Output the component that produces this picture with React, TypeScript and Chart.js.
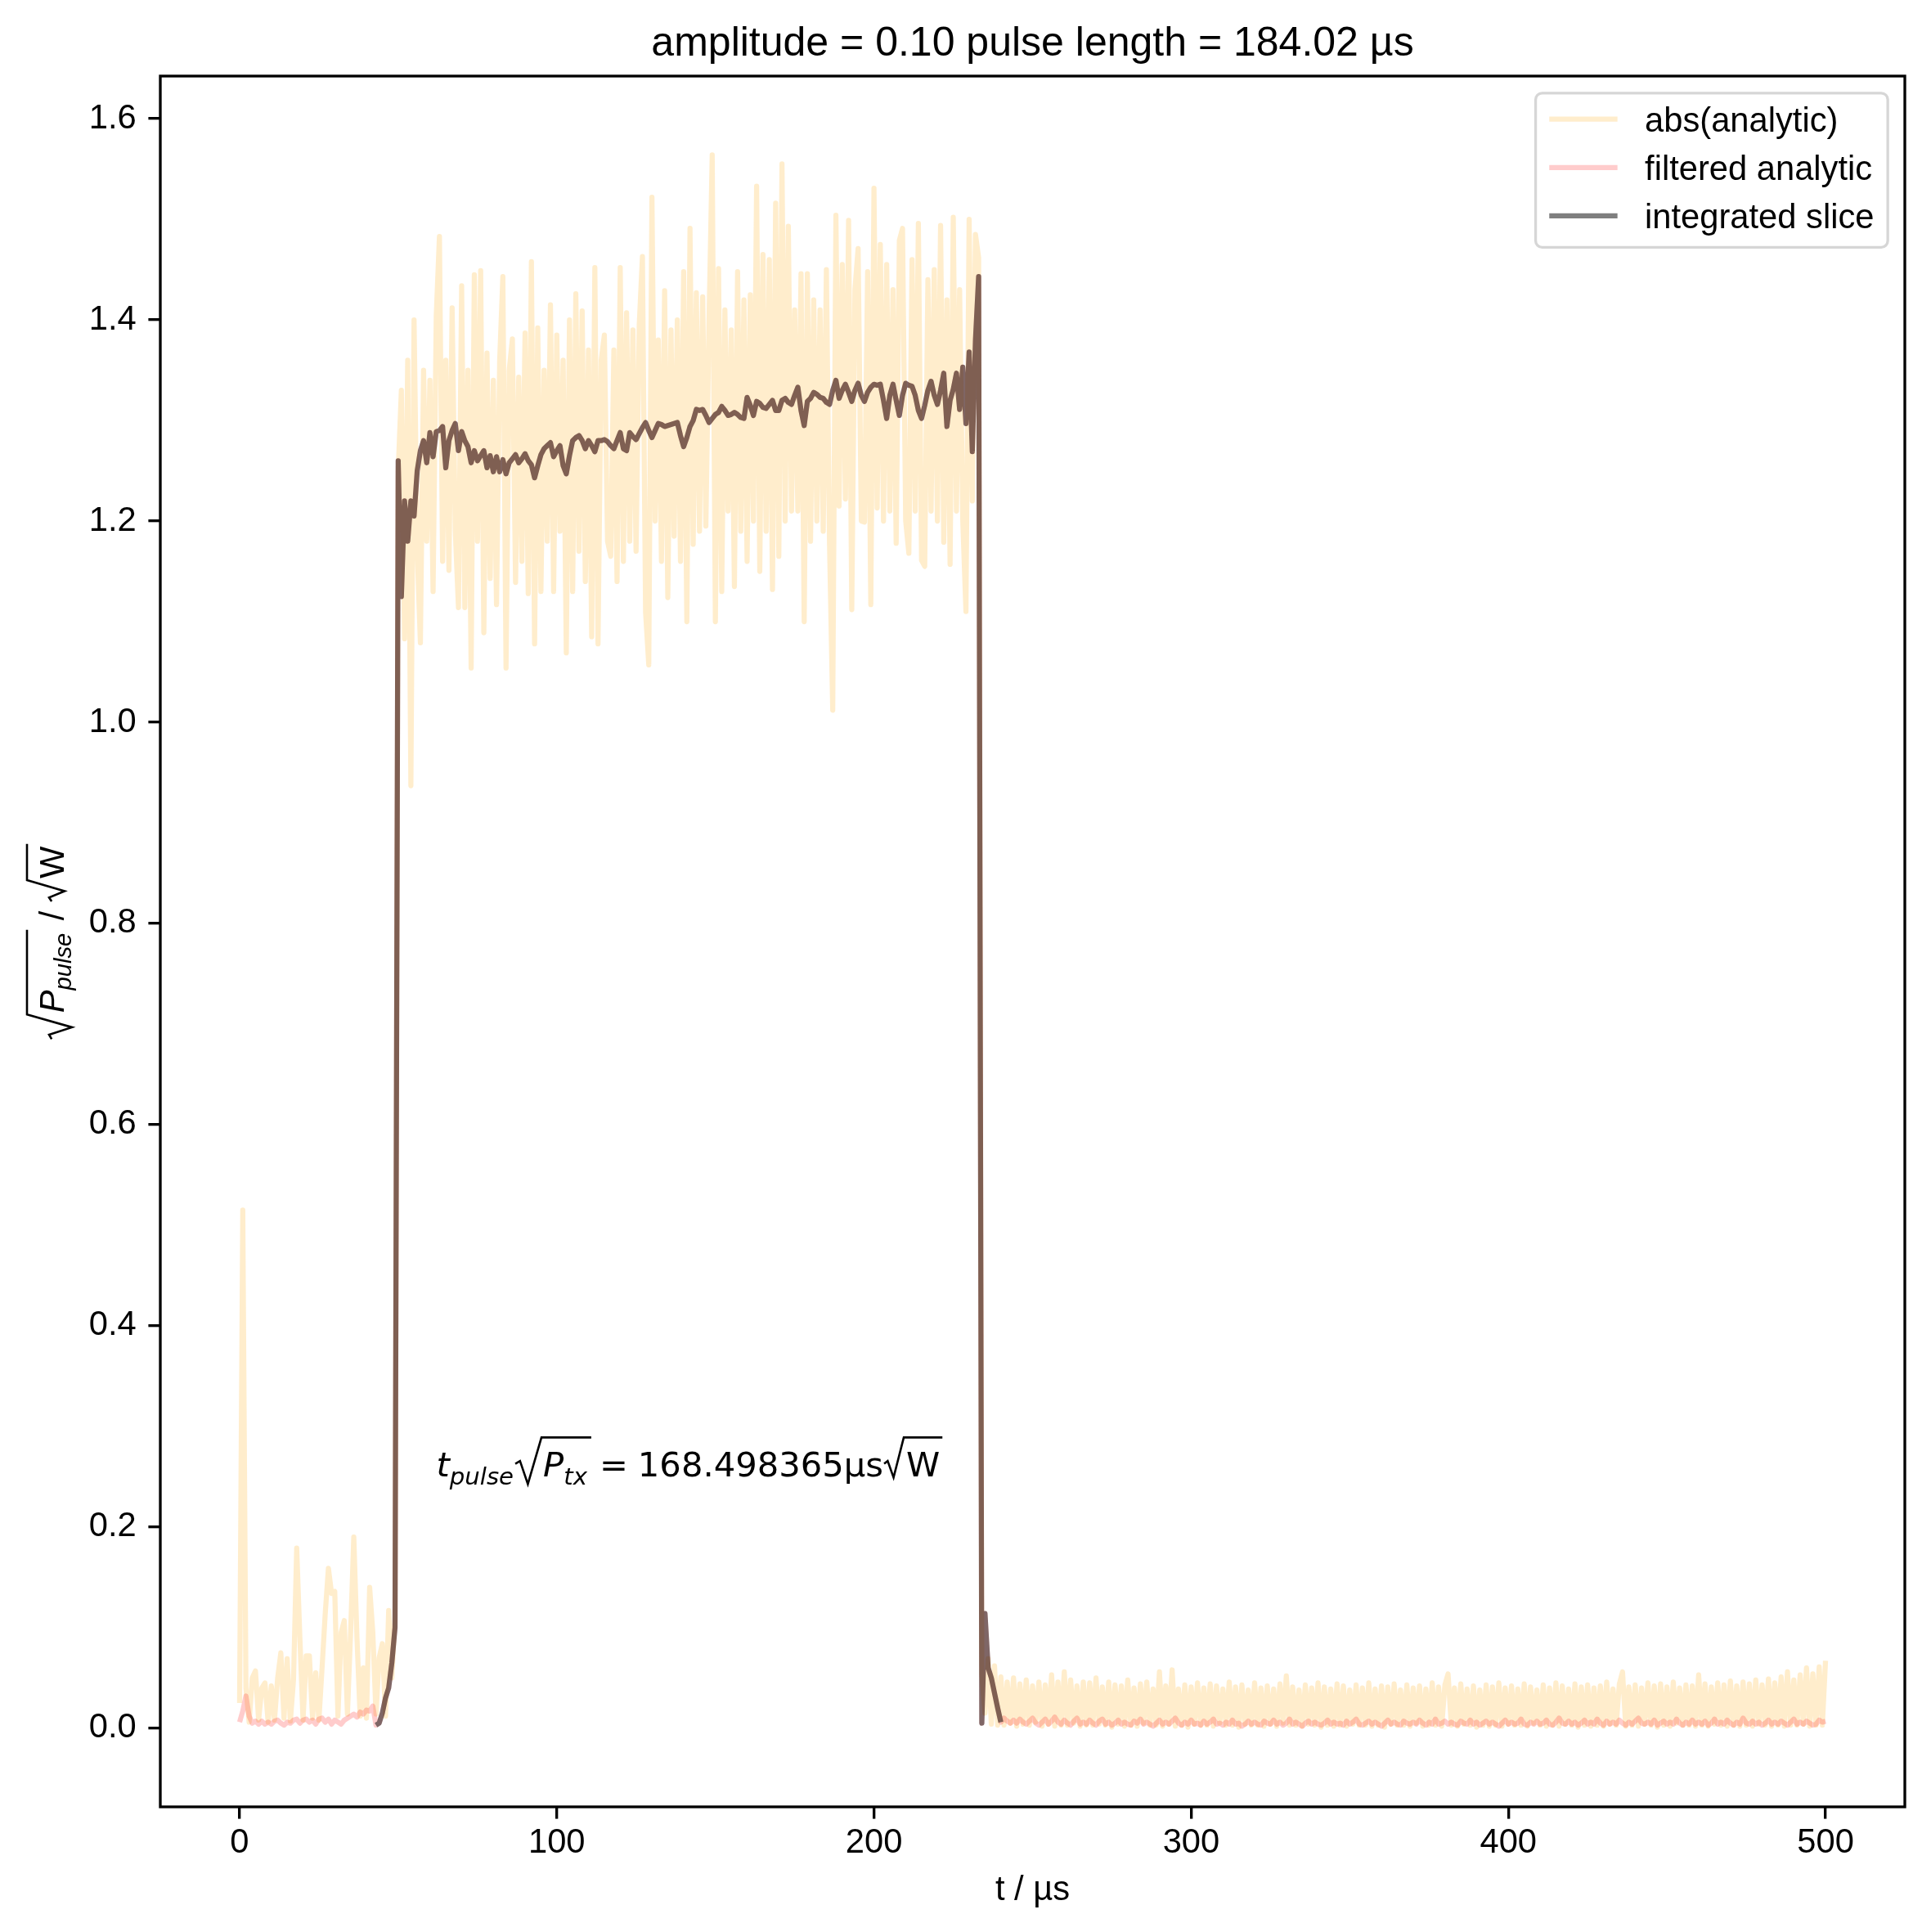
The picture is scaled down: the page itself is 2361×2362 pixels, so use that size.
import React, { useEffect, useRef } from "react";
import { Chart, registerables } from "chart.js";

Chart.register(...registerables);

// ---------------- text ----------------
const TITLE = "amplitude = 0.10 pulse length = 184.02 µs";
const X_LABEL = "t / µs";
const LEGEND_LABELS = ["abs(analytic)", "filtered analytic", "integrated slice"];
const ANNOT_X = 62;
const ANNOT_Y = 0.25;
const ANNOT_VALUE = "168.498365";

// ---------------- axes ----------------
const X_TICKS = [0, 100, 200, 300, 400, 500];
const Y_TICKS = [0, 0.2, 0.4, 0.6, 0.8, 1.0, 1.2, 1.4, 1.6];
const X_MIN = -25;
const X_MAX = 525;
const Y_MIN = -0.0782;
const Y_MAX = 1.6424;

// ---------------- data (sampling step 1 µs) ----------------
const SAMPLE_US = 1;

// abs(analytic), t = 0 .. 500 µs
const ABS_ANALYTIC = [
  0.025, 0.515, 0.040, 0.006, 0.050, 0.057, 0.008, 0.040, 0.045, 0.006,
  0.042, 0.008, 0.050, 0.075, 0.010, 0.069, 0.007, 0.048, 0.179, 0.090,
  0.008, 0.072, 0.072, 0.010, 0.055, 0.008, 0.060, 0.114, 0.159, 0.134,
  0.136, 0.012, 0.095, 0.107, 0.014, 0.095, 0.190, 0.090, 0.012, 0.060,
  0.010, 0.140, 0.095, 0.014, 0.070, 0.084, 0.012, 0.117, 0.050, 0.110,
  1.250, 1.330, 1.083, 1.360, 0.937, 1.400, 1.170, 1.079, 1.350, 1.180,
  1.340, 1.130, 1.404, 1.483, 1.160, 1.360, 1.151, 1.412, 1.190, 1.114,
  1.434, 1.114, 1.350, 1.054, 1.445, 1.180, 1.449, 1.089, 1.367, 1.143,
  1.340, 1.117, 1.360, 1.443, 1.054, 1.350, 1.381, 1.139, 1.343, 1.160,
  1.387, 1.128, 1.458, 1.078, 1.392, 1.130, 1.350, 1.180, 1.415, 1.130,
  1.385, 1.190, 1.360, 1.069, 1.400, 1.130, 1.426, 1.170, 1.409, 1.140,
  1.370, 1.085, 1.452, 1.078, 1.360, 1.385, 1.180, 1.165, 1.370, 1.140,
  1.452, 1.160, 1.407, 1.180, 1.390, 1.170, 1.395, 1.463, 1.109, 1.057,
  1.522, 1.200, 1.380, 1.160, 1.429, 1.124, 1.390, 1.185, 1.400, 1.160,
  1.448, 1.100, 1.491, 1.177, 1.427, 1.190, 1.423, 1.195, 1.400, 1.564,
  1.100, 1.451, 1.130, 1.410, 1.210, 1.390, 1.135, 1.448, 1.190, 1.420,
  1.160, 1.425, 1.200, 1.533, 1.150, 1.465, 1.190, 1.460, 1.132, 1.516,
  1.165, 1.555, 1.200, 1.493, 1.210, 1.410, 1.210, 1.446, 1.100, 1.446,
  1.180, 1.420, 1.200, 1.410, 1.190, 1.450, 1.175, 1.012, 1.504, 1.215,
  1.455, 1.222, 1.499, 1.112, 1.430, 1.471, 1.200, 1.199, 1.448, 1.117,
  1.531, 1.213, 1.475, 1.200, 1.455, 1.210, 1.430, 1.178, 1.479, 1.491,
  1.200, 1.168, 1.460, 1.210, 1.496, 1.161, 1.155, 1.440, 1.210, 1.450,
  1.200, 1.494, 1.179, 1.420, 1.157, 1.502, 1.210, 1.430, 1.200, 1.110,
  1.500, 1.220, 1.485, 1.462,
  0.054, 0.015, 0.069, 0.004, 0.062, 0.003, 0.051, 0.003, 0.046, 0.005,
  0.050, 0.002, 0.044, 0.004, 0.048, 0.003, 0.042, 0.006, 0.046, 0.002,
  0.043, 0.004, 0.053, 0.002, 0.046, 0.003, 0.056, 0.003, 0.048, 0.005,
  0.042, 0.002, 0.046, 0.003, 0.045, 0.003, 0.050, 0.004, 0.041, 0.003,
  0.046, 0.001, 0.043, 0.004, 0.042, 0.002, 0.048, 0.003, 0.040, 0.002,
  0.044, 0.005, 0.046, 0.003, 0.039, 0.003, 0.056, 0.002, 0.042, 0.004,
  0.058, 0.002, 0.039, 0.003, 0.043, 0.001, 0.041, 0.004, 0.045, 0.003,
  0.040, 0.003, 0.044, 0.002, 0.042, 0.005, 0.039, 0.003, 0.046, 0.003,
  0.041, 0.001, 0.043, 0.004, 0.038, 0.003, 0.045, 0.003, 0.040, 0.002,
  0.042, 0.004, 0.039, 0.002, 0.044, 0.005, 0.052, 0.003, 0.041, 0.003,
  0.038, 0.002, 0.043, 0.004, 0.040, 0.003, 0.045, 0.001, 0.041, 0.003,
  0.039, 0.002, 0.044, 0.003, 0.042, 0.002, 0.038, 0.004, 0.043, 0.003,
  0.040, 0.003, 0.045, 0.002, 0.039, 0.003, 0.042, 0.001, 0.041, 0.004,
  0.044, 0.003, 0.038, 0.003, 0.043, 0.002, 0.040, 0.005, 0.042, 0.002,
  0.039, 0.003, 0.045, 0.003, 0.041, 0.002, 0.043, 0.054, 0.003, 0.040,
  0.002, 0.044, 0.004, 0.039, 0.003, 0.042, 0.001, 0.038, 0.003, 0.043,
  0.002, 0.041, 0.003, 0.045, 0.002, 0.040, 0.004, 0.042, 0.003, 0.039,
  0.003, 0.044, 0.002, 0.041, 0.005, 0.038, 0.003, 0.043, 0.002, 0.040,
  0.003, 0.045, 0.002, 0.042, 0.004, 0.039, 0.003, 0.044, 0.001, 0.041,
  0.003, 0.043, 0.002, 0.040, 0.003, 0.042, 0.002, 0.046, 0.004, 0.039,
  0.003, 0.044, 0.056, 0.002, 0.041, 0.003, 0.043, 0.002, 0.040, 0.004,
  0.045, 0.003, 0.042, 0.001, 0.044, 0.003, 0.041, 0.002, 0.046, 0.005,
  0.040, 0.003, 0.043, 0.003, 0.042, 0.002, 0.053, 0.003, 0.044, 0.002,
  0.041, 0.004, 0.045, 0.003, 0.043, 0.002, 0.047, 0.003, 0.042, 0.002,
  0.046, 0.003, 0.044, 0.002, 0.048, 0.004, 0.043, 0.003, 0.049, 0.002,
  0.045, 0.003, 0.051, 0.002, 0.056, 0.003, 0.048, 0.003, 0.053, 0.004,
  0.060, 0.002, 0.054, 0.003, 0.061, 0.003, 0.067,
];

// filtered analytic before the slice, t = 0 .. 42 µs
const FILTERED_PRE = [
  0.006, 0.017, 0.032, 0.012, 0.005, 0.007, 0.004, 0.007, 0.004, 0.006,
  0.004, 0.007, 0.008, 0.005, 0.003, 0.006, 0.005, 0.008, 0.009, 0.005,
  0.008, 0.009, 0.006, 0.008, 0.004, 0.009, 0.010, 0.006, 0.009, 0.004,
  0.008, 0.006, 0.004, 0.008, 0.010, 0.012, 0.014, 0.011, 0.016, 0.014,
  0.018, 0.017, 0.022,
];

// integrated slice, t = 43 .. 240 µs (filtered analytic follows it here)
const INTEGRATED_START_US = 43;
const INTEGRATED_SLICE = [
  0.003, 0.005, 0.015, 0.030, 0.040, 0.065, 0.100,
  1.260, 1.125, 1.220, 1.180, 1.220, 1.205, 1.250, 1.270, 1.280, 1.258,
  1.288, 1.264, 1.289, 1.290, 1.294, 1.253, 1.280, 1.290, 1.297, 1.270,
  1.289, 1.280, 1.274, 1.258, 1.270, 1.260, 1.265, 1.270, 1.253, 1.265,
  1.249, 1.264, 1.249, 1.261, 1.247, 1.258, 1.262, 1.266, 1.258, 1.262,
  1.267, 1.260, 1.256, 1.243, 1.255, 1.266, 1.272, 1.275, 1.278, 1.264,
  1.270, 1.275, 1.255, 1.247, 1.265, 1.280, 1.283, 1.285, 1.280, 1.272,
  1.280, 1.275, 1.269, 1.280, 1.280, 1.281, 1.279, 1.275, 1.272, 1.280,
  1.288, 1.272, 1.270, 1.288, 1.284, 1.281, 1.287, 1.293, 1.298, 1.290,
  1.283, 1.290, 1.297, 1.296, 1.294, 1.295, 1.296, 1.297, 1.298, 1.285,
  1.274, 1.283, 1.294, 1.300, 1.311, 1.310, 1.311, 1.305, 1.298, 1.302,
  1.306, 1.308, 1.314, 1.310, 1.305, 1.306, 1.308, 1.306, 1.303, 1.302,
  1.323, 1.315, 1.305, 1.319, 1.317, 1.313, 1.312, 1.316, 1.320, 1.310,
  1.310, 1.320, 1.322, 1.318, 1.316, 1.325, 1.333, 1.310, 1.295, 1.319,
  1.322, 1.328, 1.326, 1.323, 1.322, 1.318, 1.316, 1.330, 1.340, 1.322,
  1.330, 1.336, 1.328, 1.319, 1.330, 1.337, 1.325, 1.319, 1.328, 1.333,
  1.336, 1.335, 1.336, 1.320, 1.302, 1.325, 1.336, 1.320, 1.305, 1.325,
  1.337, 1.335, 1.334, 1.325, 1.310, 1.302, 1.315, 1.330, 1.339, 1.325,
  1.316, 1.330, 1.347, 1.294, 1.320, 1.331, 1.347, 1.311, 1.353, 1.297,
  1.368, 1.269, 1.380, 1.443, 0.005, 0.114, 0.060, 0.050, 0.035, 0.020,
  0.006,
];

// filtered analytic after the slice, t = 241 .. 500 µs
const FILTERED_POST = [
  0.010, 0.007, 0.005, 0.008, 0.005, 0.009, 0.006, 0.004, 0.007, 0.010,
  0.005, 0.003, 0.006, 0.009, 0.004, 0.007, 0.011, 0.006, 0.004, 0.008,
  0.005, 0.003, 0.007, 0.010, 0.004, 0.006, 0.004, 0.008, 0.005, 0.003,
  0.007, 0.009, 0.004, 0.006, 0.003, 0.005, 0.008, 0.004, 0.006, 0.004,
  0.003, 0.007, 0.005, 0.009, 0.004, 0.006, 0.004, 0.002, 0.005, 0.008,
  0.004, 0.006, 0.004, 0.007, 0.010, 0.005, 0.003, 0.006, 0.004, 0.008,
  0.004, 0.005, 0.003, 0.007, 0.004, 0.006, 0.009, 0.004, 0.005, 0.003,
  0.006, 0.004, 0.008, 0.004, 0.005, 0.002, 0.004, 0.007, 0.004, 0.006,
  0.004, 0.003, 0.007, 0.005, 0.004, 0.008, 0.004, 0.006, 0.003, 0.005,
  0.009, 0.004, 0.006, 0.004, 0.002, 0.005, 0.007, 0.004, 0.006, 0.004,
  0.003, 0.005, 0.008, 0.004, 0.006, 0.004, 0.005, 0.003, 0.007, 0.004,
  0.006, 0.009, 0.004, 0.003, 0.005, 0.007, 0.004, 0.006, 0.004, 0.002,
  0.005, 0.008, 0.004, 0.006, 0.004, 0.003, 0.007, 0.005, 0.004, 0.006,
  0.004, 0.008, 0.005, 0.003, 0.006, 0.004, 0.009, 0.004, 0.005, 0.007,
  0.004, 0.006, 0.004, 0.003, 0.007, 0.005, 0.004, 0.008, 0.004, 0.006,
  0.003, 0.005, 0.007, 0.004, 0.006, 0.004, 0.002, 0.005, 0.008, 0.004,
  0.006, 0.004, 0.005, 0.009, 0.004, 0.003, 0.006, 0.004, 0.007, 0.004,
  0.005, 0.008, 0.004, 0.003, 0.006, 0.010, 0.005, 0.004, 0.007, 0.004,
  0.006, 0.003, 0.005, 0.008, 0.004, 0.006, 0.004, 0.009, 0.005, 0.003,
  0.007, 0.004, 0.006, 0.004, 0.008, 0.005, 0.003, 0.006, 0.004, 0.007,
  0.010, 0.005, 0.004, 0.006, 0.004, 0.008, 0.003, 0.005, 0.007, 0.004,
  0.006, 0.004, 0.009, 0.005, 0.003, 0.006, 0.004, 0.008, 0.004, 0.006,
  0.004, 0.007, 0.003, 0.005, 0.009, 0.004, 0.006, 0.004, 0.008, 0.005,
  0.003, 0.006, 0.004, 0.010, 0.005, 0.004, 0.007, 0.004, 0.006, 0.003,
  0.005, 0.008, 0.004, 0.006, 0.004, 0.007, 0.005, 0.003, 0.006, 0.009,
  0.004, 0.006, 0.004, 0.007, 0.005, 0.003, 0.004, 0.008, 0.006, 0.007,
];

// ---------------- styling ----------------
const SANS = '"Liberation Sans", Arial, Helvetica, sans-serif';
const MATH = '"DejaVu Sans", sans-serif';
const FS = 41.7;
const LW = 6.25;
const SPINE = 3.33;
const COLORS = ["rgba(255,165,0,0.2)", "rgba(255,0,0,0.2)", "rgba(0,0,0,0.5)"];

function radical(ctx: any, x: number, base: number, top: number, bottom: number, w: number, barEnd: number) {
  const h = base - top;
  ctx.save();
  ctx.lineJoin = "miter";
  ctx.beginPath();
  ctx.moveTo(x, base - h * 0.33);
  ctx.lineTo(x + w * 0.18, base - h * 0.4);
  ctx.lineTo(x + w * 0.48, bottom);
  ctx.lineTo(x + w, top);
  ctx.lineTo(barEnd, top);
  ctx.lineWidth = 2.6;
  ctx.strokeStyle = "#000";
  ctx.stroke();
  ctx.restore();
}

function drawYLabel(ctx: any, baseX: number, centerY: number) {
  const it = `italic ${FS}px ${SANS}`;
  const itS = `italic ${FS * 0.7}px ${SANS}`;
  const rm = `${FS}px ${SANS}`;
  ctx.save();
  ctx.translate(baseX, centerY);
  ctx.rotate(-Math.PI / 2);
  ctx.fillStyle = "#000";
  ctx.textAlign = "left";
  ctx.textBaseline = "alphabetic";
  ctx.font = it;
  const wP = ctx.measureText("P").width;
  ctx.font = itS;
  const wSub = ctx.measureText("pulse").width;
  ctx.font = rm;
  const wSlash = ctx.measureText(" / ").width;
  const wW = ctx.measureText("W").width;
  const r1 = 30, r2 = 26;
  const total = r1 + 2 + wP + wSub + 4 + wSlash + r2 + 2 + wW + 3;
  let u = -total / 2;
  const top = -45;
  const r1x = u;
  u += r1 + 2;
  ctx.font = it;
  ctx.fillText("P", u, 0);
  u += wP;
  ctx.font = itS;
  ctx.fillText("pulse", u, FS * 0.22);
  u += wSub + 4;
  radical(ctx, r1x, 0, top, 10, r1, u);
  ctx.font = rm;
  ctx.fillText(" / ", u, 0);
  u += wSlash;
  const r2x = u;
  u += r2 + 2;
  ctx.fillText("W", u, 0);
  u += wW + 3;
  radical(ctx, r2x, 0, top, 1, r2, u);
  ctx.restore();
}

function drawAnnotation(ctx: any, x0: number, base: number) {
  const it = `italic ${FS}px ${MATH}`;
  const itS = `italic ${FS * 0.7}px ${MATH}`;
  const rm = `${FS}px ${MATH}`;
  const sub = FS * 0.22;
  ctx.save();
  ctx.fillStyle = "#000";
  ctx.textAlign = "left";
  ctx.textBaseline = "alphabetic";
  let x = x0;
  ctx.font = it;
  ctx.fillText("t", x, base);
  x += ctx.measureText("t").width;
  ctx.font = itS;
  ctx.fillText("pulse", x, base + sub);
  x += ctx.measureText("pulse").width + 2;
  const top = base - 48;
  const r1 = 32;
  const r1x = x;
  x += r1 + 2;
  ctx.font = it;
  ctx.fillText("P", x, base);
  x += ctx.measureText("P").width;
  ctx.font = itS;
  ctx.fillText("tx", x, base + sub);
  x += ctx.measureText("tx").width + 5;
  radical(ctx, r1x, base, top, base + 9, r1, x);
  x += 10;
  ctx.font = rm;
  ctx.fillText("=", x, base);
  x += ctx.measureText("=").width + 12;
  const valueText = ANNOT_VALUE + "µs";
  ctx.fillText(valueText, x, base);
  x += ctx.measureText(valueText).width + 1;
  const r2 = 24;
  const r2x = x;
  x += r2 + 3;
  ctx.fillText("W", x, base);
  x += ctx.measureText("W").width + 3;
  radical(ctx, r2x, base, top, base + 1, r2, x);
  ctx.restore();
}

function drawLegend(ctx: any, chart: any, a: any) {
  const pad = 16.7, hl = 83.4, htp = 33.4;
  const right = a.right - 20.85;
  const top = a.top + 20.85;
  ctx.save();
  ctx.font = `${FS}px ${SANS}`;
  const ds = chart.data.datasets;
  const tw = Math.max(...ds.map((d: any) => ctx.measureText(d.label).width));
  const w = pad * 2 + hl + htp + tw;
  const h = 188.5;
  const left = right - w;
  const r = 8;
  ctx.beginPath();
  ctx.moveTo(left + r, top);
  ctx.lineTo(right - r, top);
  ctx.arcTo(right, top, right, top + r, r);
  ctx.lineTo(right, top + h - r);
  ctx.arcTo(right, top + h, right - r, top + h, r);
  ctx.lineTo(left + r, top + h);
  ctx.arcTo(left, top + h, left, top + h - r, r);
  ctx.lineTo(left, top + r);
  ctx.arcTo(left, top, left + r, top, r);
  ctx.closePath();
  ctx.fillStyle = "rgba(255,255,255,0.8)";
  ctx.fill();
  ctx.lineWidth = SPINE;
  ctx.strokeStyle = "rgba(204,204,204,0.8)";
  ctx.stroke();
  ds.forEach((d: any, i: number) => {
    const yc = top + 31.7 + i * 59.2;
    ctx.beginPath();
    ctx.moveTo(left + pad, yc);
    ctx.lineTo(left + pad + hl, yc);
    ctx.lineWidth = LW;
    ctx.lineCap = "butt";
    ctx.strokeStyle = d.borderColor;
    ctx.stroke();
    ctx.fillStyle = "#000";
    ctx.textAlign = "left";
    ctx.textBaseline = "alphabetic";
    ctx.fillText(d.label, left + pad + hl + htp, yc + 15);
  });
  ctx.restore();
}

const overlayPlugin = {
  id: "mplOverlay",
  afterDraw(chart: any) {
    const { ctx, chartArea: a, scales } = chart;
    ctx.save();
    ctx.strokeStyle = "#000";
    ctx.lineWidth = SPINE;
    ctx.strokeRect(a.left, a.top, a.right - a.left, a.bottom - a.top);
    ctx.fillStyle = "#000";
    ctx.textAlign = "center";
    ctx.textBaseline = "alphabetic";
    ctx.font = `50px ${SANS}`;
    ctx.fillText(TITLE, (a.left + a.right) / 2, a.top - 25);
    ctx.font = `${FS}px ${SANS}`;
    ctx.fillText(X_LABEL, (a.left + a.right) / 2, a.bottom + 114);
    ctx.restore();
    drawYLabel(ctx, 78, (a.top + a.bottom) / 2);
    drawAnnotation(ctx, scales.x.getPixelForValue(ANNOT_X), scales.y.getPixelForValue(ANNOT_Y));
    drawLegend(ctx, chart, a);
  },
};

function toPoints(values: number[], startUs: number) {
  return values.map((v, i) => ({ x: startUs + i * SAMPLE_US, y: v }));
}

export default function App() {
  const ref = useRef<HTMLCanvasElement | null>(null);
  useEffect(() => {
    document.body.style.margin = "0";
    const canvas = ref.current;
    if (!canvas) return;
    const filtered = [...FILTERED_PRE, ...INTEGRATED_SLICE, ...FILTERED_POST];
    const common = {
      borderWidth: LW,
      pointRadius: 0,
      pointHoverRadius: 0,
      tension: 0,
      fill: false,
      borderJoinStyle: "round",
      borderCapStyle: "butt",
    };
    const tickFont = { family: SANS, size: FS };
    const chart = new Chart(canvas, {
      type: "line",
      data: {
        datasets: [
          { ...common, label: LEGEND_LABELS[0], data: toPoints(ABS_ANALYTIC, 0), borderColor: COLORS[0], order: 3 },
          { ...common, label: LEGEND_LABELS[1], data: toPoints(filtered, 0), borderColor: COLORS[1], order: 2 },
          { ...common, label: LEGEND_LABELS[2], data: toPoints(INTEGRATED_SLICE, INTEGRATED_START_US), borderColor: COLORS[2], order: 1 },
        ],
      } as any,
      options: {
        animation: false,
        responsive: false,
        devicePixelRatio: 1,
        events: [],
        layout: { padding: { left: 0, top: 93, right: 32, bottom: 0 } },
        plugins: {
          legend: { display: false },
          title: { display: false },
          tooltip: { enabled: false },
        },
        scales: {
          x: {
            type: "linear",
            min: X_MIN,
            max: X_MAX,
            afterBuildTicks: (s: any) => {
              s.ticks = X_TICKS.map((v) => ({ value: v }));
            },
            afterFit: (s: any) => {
              s.height = 153;
            },
            grid: { display: true, drawOnChartArea: false, drawTicks: true, tickLength: 14.6, color: "#000", lineWidth: SPINE },
            border: { display: false },
            ticks: {
              font: tickFont,
              color: "#000",
              padding: 5,
              maxRotation: 0,
              minRotation: 0,
              autoSkip: false,
              callback: (v: any) => String(v),
            },
          },
          y: {
            type: "linear",
            min: Y_MIN,
            max: Y_MAX,
            afterBuildTicks: (s: any) => {
              s.ticks = Y_TICKS.map((v) => ({ value: v }));
            },
            afterFit: (s: any) => {
              s.width = 196;
            },
            grid: { display: true, drawOnChartArea: false, drawTicks: true, tickLength: 14.6, color: "#000", lineWidth: SPINE },
            border: { display: false },
            ticks: {
              font: tickFont,
              color: "#000",
              padding: 14.6,
              autoSkip: false,
              callback: (v: any) => Number(v).toFixed(1),
            },
          },
        },
      } as any,
      plugins: [overlayPlugin],
    });
    return () => chart.destroy();
  }, []);
  return (
    <canvas
      ref={ref}
      width={2361}
      height={2362}
      style={{ display: "block", width: "2361px", height: "2362px" }}
    />
  );
}
